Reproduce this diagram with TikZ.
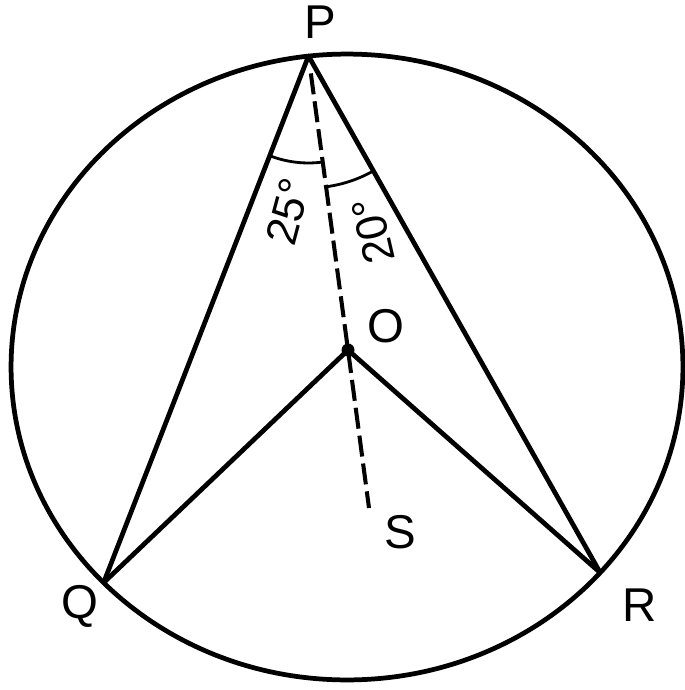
\documentclass[tikz,border=0pt]{standalone}
\usepackage{fontspec}
\setmainfont{Liberation Sans}

\begin{document}
\begin{tikzpicture}[x=0.02cm, y=-0.02cm, font=\fontsize{27}{32}\selectfont,
  rim/.style={line width=2.7pt},
  chord/.style={line width=2.7pt, line join=round},
  axisline/.style={line width=2.3pt, dash pattern=on 12pt off 4pt},
  anglemark/.style={line width=1.6pt},
  anglelabel/.style={font=\fontsize{25}{30}\selectfont, inner sep=0pt}]
  \useasboundingbox (0,0) rectangle (685,690);
  % circle
  \coordinate (C) at (347,367);
  \draw[rim] (C) ellipse [x radius=6.72cm, y radius=6.26cm];
  % points
  \coordinate (P) at (308.5,56);
  \coordinate (Q) at (103.6,582.7);
  \coordinate (R) at (600.2,572.7);
  \coordinate (O) at (348,350);
  \coordinate (S) at (369,508);
  % lines
  \draw[chord] (Q) -- (P) -- (R);
  \draw[chord] (Q) -- (O) -- (R);
  \draw[axisline, shorten <=10pt] (P) -- (O) -- (S);
  \fill (O) circle [radius=0.13cm];
  % angle marks
  \draw[anglemark] (P) ++(248.7:2.14cm) arc [start angle=248.7, end angle=277.7, radius=2.14cm];
  \draw[anglemark] (P) ++(277.7:2.64cm) arc [start angle=277.7, end angle=299.4, radius=2.64cm];
  % labels
  \node (labP) at (320,22) {P};
  \node (labQ) at (80,606) {Q};
  \node (labR) at (640,605) {R};
  \node (labO) at (386,326) {O};
  \node (labS) at (400,532) {S};
  \node[anglelabel, rotate=75] (ang25) at (288,212) {25°};
  \node[anglelabel, rotate=103] (ang20) at (373,231) {20°};
\end{tikzpicture}
\end{document}
